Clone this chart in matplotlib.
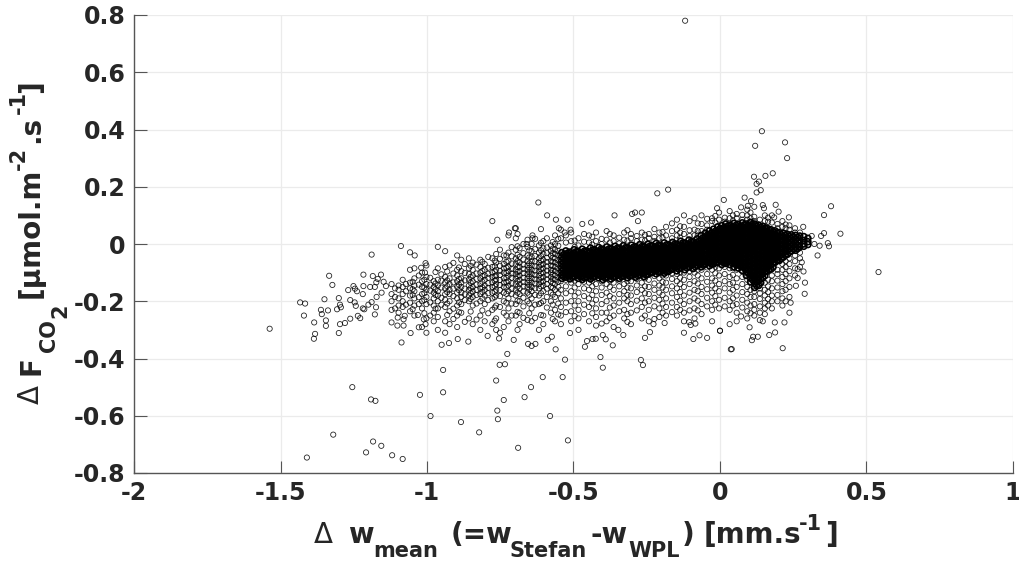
import matplotlib
matplotlib.use('Agg')
import matplotlib.pyplot as plt

# outliers and sparse points
sparse_x = [-0.119, -1.537, -1.433, -1.416, -1.42, -1.385, -1.382, -1.386, -1.362, -1.359, -1.334, -1.323, -1.35, -1.338,
            -1.345, -1.345, -1.301, -1.297, -1.307, -1.294, -1.297, -1.28, -1.301, -1.262, -1.269, -1.251, -1.246, -1.239,
            -1.219, -1.217, -1.217, -1.262, -1.247, -1.243, -1.219, -1.236, -1.228, -1.214, -1.2, -1.189, -1.174, -1.178,
            -1.194, -1.178, -1.185, -1.189, -1.157, -1.168, -1.173, -1.172, -1.148, -1.14, -1.155, -1.121, -1.1, -1.101,
            -1.08, -1.076, -1.08, -1.087, -1.056, -1.028, -1.005, -1.011, -1.031, -1.089, -1.058, -1.042, -1.005, -1.007,
            -1.02, -1.255, -1.191, -1.176, -1.024, -0.988, -1.32, -1.41, -1.184, -1.156, -1.208, -1.119, -1.083,
            -0.945, -0.945, -0.884, -0.822, -0.689, -0.519, -0.58, -0.758, -0.76, -0.738, -0.667, -0.645, -0.605, -0.537,
            -0.764, -0.752, -0.734, -0.726, -0.529, -0.561, -0.408, -0.4, -0.27, -0.263, -0.461, -0.366, -0.95, -0.925,
            -0.895, -0.859, -0.793, -0.754, -0.704, -0.655, -0.643, -0.63, -0.588, -0.574, -0.512, -0.454, -0.435, -0.424,
            -0.4, -0.39, -0.347, -0.33, -0.256, -0.239, -0.123, -0.091, -0.07, -0.044, 0.0, 0.037,
            0.143, 0.222, 0.12, 0.229, 0.18, 0.155, 0.116, 0.133, 0.125, 0.139, 0.125, -0.177, -0.214, 0.013, 0.084, 0.106,
            0.146, 0.15, 0.19, -0.01, 0.072, 0.095, 0.2, 0.379, 0.355, 0.411, 0.355, 0.345, 0.284, 0.235, 0.185, 0.541,
            0.372, 0.368, 0.333, 0.34, 0.322, 0.313, 0.29, 0.289, 0.285, 0.279, 0.265, 0.265, 0.259, 0.241, 0.237, 0.22,
            0.214, 0.188, 0.168, 0.187, 0.146, 0.136, 0.101, 0.129, 0.113, 0.109, 0.04, 0.0, 0.072, -0.084, -0.105, -0.1,
            -0.189, -0.227, -0.62, -0.59, -0.56, -0.64, -0.64, -0.52, -0.47, -0.44, -0.36, -0.3, -0.29, -0.28, -0.76, -0.72,
            -0.7, -0.55, -0.53, -0.51, -0.66]
sparse_y = [0.78, -0.296, -0.204, -0.208, -0.25, -0.274, -0.314, -0.331, -0.23, -0.245, -0.111, -0.143, -0.193, -0.232,
            -0.267, -0.286, -0.189, -0.212, -0.228, -0.221, -0.28, -0.276, -0.311, -0.261, -0.161, -0.147, -0.156, -0.165,
            -0.175, -0.107, -0.147, -0.196, -0.204, -0.216, -0.225, -0.251, -0.259, -0.228, -0.212, -0.203, -0.221, -0.246,
            -0.15, -0.15, -0.112, -0.037, -0.107, -0.122, -0.134, -0.185, -0.132, -0.147, -0.17, -0.274, -0.257, -0.285,
            -0.285, -0.251, -0.263, -0.344, -0.311, -0.291, -0.28, -0.263, -0.248, -0.007, -0.029, -0.04, -0.067, -0.1,
            -0.083, -0.5, -0.543, -0.548, -0.527, -0.601, -0.666, -0.746, -0.69, -0.705, -0.728, -0.738, -0.751,
            -0.44, -0.518, -0.622, -0.658, -0.712, -0.686, -0.601, -0.612, -0.582, -0.545, -0.535, -0.5, -0.465, -0.465,
            -0.477, -0.422, -0.42, -0.384, -0.404, -0.368, -0.395, -0.432, -0.405, -0.423, -0.359, -0.354, -0.352, -0.346,
            -0.332, -0.341, -0.321, -0.33, -0.335, -0.349, -0.356, -0.349, -0.335, -0.324, -0.311, -0.339, -0.332, -0.331,
            -0.318, -0.333, -0.3, -0.318, -0.328, -0.308, -0.31, -0.332, -0.319, -0.328, -0.303, -0.368,
            0.394, 0.355, 0.343, 0.3, 0.247, 0.238, 0.235, 0.218, 0.21, 0.188, 0.18, 0.19, 0.177, 0.154, 0.162, 0.15,
            0.136, 0.125, 0.137, 0.125, 0.128, 0.133, 0.113, 0.132, 0.101, 0.036, 0.038, 0.028, 0.06, 0.093, 0.093, -0.098,
            -0.008, 0.003, -0.04, -0.006, 0.0, 0.028, -0.135, -0.174, -0.096, -0.064, -0.119, -0.088, -0.146, -0.205, -0.24, -0.274,
            -0.364, -0.309, -0.318, -0.274, -0.27, -0.266, -0.291, -0.324, -0.324, -0.336, -0.367, -0.303, -0.253, -0.278, -0.273, -0.283,
            -0.276, -0.28, 0.145, 0.1, 0.085, 0.03, 0.02, 0.085, 0.07, 0.075, 0.1, 0.105, 0.11, 0.08, 0.015, 0.04,
            0.055, 0.055, 0.04, 0.05, 0.0]

# left part of the cloud, read column by column
left_x = [-1.121, -1.097, -1.083, -1.058, -1.043, -1.017, -1.002, -0.977, -0.963, -0.938, -0.923, -0.897, -0.883, -0.857, -0.844,
          -0.818, -0.803, -0.777, -0.764, -0.738, -0.722, -0.697, -0.684, -0.657, -0.643, -0.618, -0.603, -0.577, -0.563]
left_y = [
    [-0.14, -0.175, -0.2, -0.23],
    [-0.145, -0.16, -0.19, -0.215, -0.24],
    [-0.125, -0.15, -0.175, -0.2, -0.22],
    [-0.09, -0.135, -0.155, -0.18, -0.205, -0.235],
    [-0.085, -0.12, -0.145, -0.165, -0.19, -0.215, -0.25],
    [-0.1, -0.13, -0.15, -0.175, -0.2, -0.225, -0.29],
    [-0.075, -0.115, -0.14, -0.16, -0.185, -0.21, -0.26, -0.31],
    [-0.13, -0.15, -0.17, -0.19, -0.215, -0.24, -0.27],
    [-0.01, -0.085, -0.125, -0.145, -0.165, -0.18, -0.2, -0.225, -0.255, -0.3],
    [-0.025, -0.08, -0.115, -0.135, -0.155, -0.175, -0.195, -0.22, -0.27, -0.31],
    [-0.075, -0.12, -0.14, -0.16, -0.175, -0.2, -0.235, -0.28],
    [-0.04, -0.09, -0.11, -0.13, -0.15, -0.17, -0.19, -0.215, -0.25, -0.29],
    [-0.055, -0.095, -0.12, -0.135, -0.15, -0.17, -0.185, -0.21, -0.24],
    [-0.05, -0.085, -0.105, -0.125, -0.145, -0.16, -0.18, -0.2, -0.26],
    [-0.065, -0.09, -0.11, -0.13, -0.15, -0.165, -0.185, -0.215, -0.28],
    [-0.055, -0.08, -0.1, -0.12, -0.14, -0.155, -0.175, -0.2, -0.25, -0.3],
    [-0.07, -0.09, -0.11, -0.125, -0.145, -0.16, -0.18, -0.21, -0.27],
    [0.08, -0.05, -0.08, -0.1, -0.115, -0.135, -0.15, -0.17, -0.19, -0.23, -0.28],
    [-0.035, -0.065, -0.09, -0.11, -0.125, -0.14, -0.16, -0.18, -0.215, -0.26, -0.3],
    [-0.04, -0.07, -0.085, -0.1, -0.12, -0.135, -0.15, -0.17, -0.2, -0.24, -0.29],
    [0.03, -0.03, -0.06, -0.08, -0.095, -0.11, -0.13, -0.145, -0.165, -0.19, -0.225, -0.27],
    [0.055, 0.02, -0.02, -0.05, -0.07, -0.09, -0.105, -0.12, -0.14, -0.16, -0.18, -0.21, -0.25],
    [-0.015, -0.045, -0.065, -0.08, -0.095, -0.11, -0.125, -0.14, -0.155, -0.175, -0.2, -0.24, -0.28],
    [0.015, -0.01, -0.04, -0.06, -0.075, -0.09, -0.105, -0.12, -0.135, -0.15, -0.17, -0.2, -0.265],
    [0.0, -0.025, -0.045, -0.06, -0.075, -0.09, -0.105, -0.12, -0.135, -0.15, -0.165, -0.19, -0.225, -0.27],
    [-0.005, -0.03, -0.05, -0.065, -0.08, -0.095, -0.11, -0.125, -0.14, -0.155, -0.18, -0.21, -0.3],
    [0.01, -0.015, -0.035, -0.055, -0.07, -0.085, -0.1, -0.115, -0.13, -0.145, -0.165, -0.2, -0.25, -0.28],
    [-0.005, -0.025, -0.04, -0.06, -0.075, -0.09, -0.1, -0.115, -0.13, -0.15, -0.17, -0.2, -0.24],
    [0.03, 0.0, -0.02, -0.035, -0.05, -0.065, -0.08, -0.095, -0.11, -0.125, -0.14, -0.16, -0.185, -0.23, -0.27],
]

# second reading of the same part, between the columns above
left2_x = [-1.109, -1.072, -1.049, -1.028, -1.009, -0.989, -0.971, -0.951, -0.931, -0.91, -0.891, -0.871, -0.851, -0.831,
           -0.811, -0.791, -0.769, -0.751, -0.729, -0.711, -0.691, -0.671, -0.651, -0.631, -0.611, -0.591, -0.571, -0.552]
left2_y = [
    [-0.155, -0.185, -0.225],
    [-0.14, -0.165, -0.212],
    [-0.132, -0.158, -0.178, -0.228],
    [-0.11, -0.142, -0.186, -0.21],
    [-0.125, -0.152, -0.172, -0.196, -0.242],
    [-0.118, -0.142, -0.163, -0.204, -0.25],
    [-0.098, -0.138, -0.158, -0.178, -0.226],
    [-0.106, -0.128, -0.152, -0.188, -0.212],
    [-0.096, -0.127, -0.147, -0.168, -0.208, -0.248],
    [-0.066, -0.103, -0.134, -0.156, -0.182, -0.226, -0.262],
    [-0.082, -0.122, -0.142, -0.161, -0.204, -0.238],
    [-0.07, -0.101, -0.127, -0.156, -0.176, -0.196, -0.272],
    [-0.076, -0.115, -0.135, -0.154, -0.172, -0.192, -0.236],
    [-0.072, -0.103, -0.122, -0.142, -0.16, -0.178, -0.208, -0.264],
    [-0.062, -0.094, -0.112, -0.132, -0.152, -0.168, -0.19, -0.232],
    [-0.045, -0.083, -0.104, -0.118, -0.137, -0.153, -0.172, -0.196, -0.242],
    [-0.058, -0.078, -0.096, -0.113, -0.128, -0.147, -0.167, -0.186, -0.222, -0.268],
    [-0.02, -0.052, -0.076, -0.094, -0.108, -0.126, -0.143, -0.161, -0.182, -0.22, -0.31],
    [-0.04, -0.062, -0.083, -0.101, -0.118, -0.133, -0.152, -0.174, -0.205, -0.25],
    [-0.011, -0.043, -0.068, -0.087, -0.103, -0.118, -0.137, -0.156, -0.174, -0.208, -0.25],
    [0.035, -0.008, -0.038, -0.06, -0.08, -0.097, -0.113, -0.13, -0.149, -0.17, -0.198, -0.237, -0.3],
    [0.0, -0.032, -0.054, -0.072, -0.087, -0.102, -0.118, -0.133, -0.148, -0.166, -0.188, -0.218, -0.258],
    [-0.022, -0.047, -0.068, -0.083, -0.098, -0.113, -0.128, -0.143, -0.158, -0.178, -0.208, -0.242],
    [0.018, -0.018, -0.042, -0.061, -0.078, -0.093, -0.108, -0.123, -0.138, -0.155, -0.178, -0.212, -0.258],
    [0.052, 0.004, -0.022, -0.042, -0.058, -0.073, -0.088, -0.103, -0.118, -0.133, -0.148, -0.172, -0.206, -0.248],
    [0.02, -0.012, -0.032, -0.048, -0.063, -0.078, -0.093, -0.108, -0.123, -0.14, -0.156, -0.185, -0.222],
    [0.007, -0.016, -0.033, -0.048, -0.062, -0.077, -0.092, -0.107, -0.122, -0.137, -0.153, -0.177, -0.212, -0.262],
    [0.018, -0.006, -0.024, -0.04, -0.056, -0.071, -0.085, -0.101, -0.116, -0.132, -0.15, -0.172, -0.208, -0.246],
]

# black core of the cloud
core_x = [-0.54, -0.526, -0.512, -0.498, -0.484, -0.47, -0.456, -0.442, -0.428, -0.414, -0.4, -0.386, -0.372, -0.358,
          -0.344, -0.33, -0.316, -0.302, -0.288, -0.274, -0.26, -0.246, -0.232, -0.218, -0.204, -0.19, -0.176, -0.162,
          -0.148, -0.134, -0.12, -0.106, -0.092, -0.078, -0.064, -0.05, -0.036, -0.022, -0.008, 0.006, 0.02, 0.034,
          0.048, 0.062, 0.076, 0.09, 0.104, 0.118, 0.132, 0.146, 0.16, 0.174, 0.188, 0.202, 0.216, 0.23, 0.244, 0.258,
          0.272, 0.286, 0.3]
core_y = [
    [-0.03, -0.045, -0.058, -0.07, -0.083, -0.095, -0.108, -0.12],
    [-0.024, -0.038, -0.052, -0.066, -0.078, -0.09, -0.104, -0.116],
    [-0.028, -0.042, -0.056, -0.07, -0.082, -0.096, -0.11, -0.122],
    [-0.02, -0.034, -0.048, -0.062, -0.075, -0.088, -0.1, -0.114],
    [-0.026, -0.04, -0.054, -0.068, -0.08, -0.094, -0.108, -0.12],
    [-0.018, -0.032, -0.046, -0.06, -0.072, -0.086, -0.098, -0.112, -0.124],
    [-0.024, -0.038, -0.052, -0.064, -0.078, -0.09, -0.104, -0.116],
    [-0.014, -0.028, -0.042, -0.056, -0.07, -0.082, -0.096, -0.11, -0.122],
    [-0.02, -0.034, -0.048, -0.06, -0.074, -0.088, -0.1, -0.114],
    [-0.012, -0.026, -0.04, -0.054, -0.066, -0.08, -0.092, -0.106, -0.118],
    [-0.018, -0.032, -0.046, -0.058, -0.072, -0.086, -0.098, -0.112, -0.124],
    [-0.01, -0.024, -0.038, -0.052, -0.064, -0.078, -0.09, -0.104, -0.116],
    [-0.016, -0.03, -0.044, -0.056, -0.07, -0.084, -0.096, -0.11, -0.122],
    [-0.008, -0.022, -0.036, -0.05, -0.062, -0.076, -0.088, -0.102, -0.114],
    [-0.014, -0.028, -0.042, -0.054, -0.068, -0.082, -0.094, -0.108, -0.12],
    [-0.006, -0.02, -0.034, -0.048, -0.06, -0.074, -0.086, -0.1, -0.112],
    [-0.012, -0.026, -0.04, -0.052, -0.066, -0.08, -0.092, -0.106, -0.118],
    [-0.004, -0.018, -0.032, -0.046, -0.058, -0.072, -0.084, -0.098, -0.11],
    [-0.01, -0.024, -0.038, -0.05, -0.064, -0.078, -0.09, -0.104, -0.116],
    [-0.002, -0.016, -0.03, -0.044, -0.056, -0.07, -0.082, -0.096, -0.108],
    [-0.008, -0.022, -0.036, -0.048, -0.062, -0.076, -0.088, -0.102, -0.114],
    [0.0, -0.014, -0.028, -0.042, -0.054, -0.068, -0.08, -0.094, -0.106],
    [-0.006, -0.02, -0.034, -0.046, -0.06, -0.074, -0.086, -0.1],
    [0.002, -0.012, -0.026, -0.04, -0.052, -0.066, -0.078, -0.092, -0.104],
    [-0.004, -0.018, -0.032, -0.044, -0.058, -0.072, -0.084, -0.098],
    [0.004, -0.01, -0.024, -0.038, -0.05, -0.064, -0.076, -0.09, -0.102],
    [-0.002, -0.016, -0.03, -0.042, -0.056, -0.07, -0.082, -0.096],
    [0.006, -0.008, -0.022, -0.036, -0.048, -0.062, -0.074, -0.088],
    [0.0, -0.014, -0.028, -0.04, -0.054, -0.068, -0.08, -0.094],
    [0.01, -0.004, -0.018, -0.032, -0.044, -0.058, -0.07, -0.084],
    [0.004, -0.01, -0.024, -0.036, -0.05, -0.064, -0.076, -0.09],
    [0.014, 0.0, -0.014, -0.028, -0.04, -0.054, -0.066, -0.08],
    [0.008, -0.006, -0.02, -0.032, -0.046, -0.06, -0.072, -0.086],
    [0.018, 0.004, -0.01, -0.024, -0.036, -0.05, -0.062, -0.076],
    [0.03, 0.014, 0.0, -0.014, -0.028, -0.04, -0.054, -0.068, -0.08],
    [0.038, 0.024, 0.01, -0.004, -0.018, -0.03, -0.044, -0.058, -0.07],
    [0.046, 0.032, 0.018, 0.004, -0.01, -0.024, -0.036, -0.05, -0.064, -0.076],
    [0.052, 0.038, 0.024, 0.01, -0.004, -0.018, -0.03, -0.044, -0.058, -0.07],
    [0.06, 0.046, 0.032, 0.018, 0.004, -0.01, -0.024, -0.036, -0.05, -0.064],
    [0.064, 0.05, 0.036, 0.022, 0.008, -0.006, -0.02, -0.032, -0.046, -0.06, -0.072],
    [0.07, 0.056, 0.042, 0.028, 0.014, 0.0, -0.014, -0.026, -0.04, -0.054, -0.068],
    [0.066, 0.052, 0.038, 0.024, 0.01, -0.004, -0.018, -0.03, -0.044, -0.058, -0.072],
    [0.072, 0.058, 0.044, 0.03, 0.016, 0.002, -0.012, -0.024, -0.038, -0.052, -0.066, -0.08],
    [0.068, 0.054, 0.04, 0.026, 0.012, -0.002, -0.016, -0.028, -0.042, -0.056, -0.07, -0.084],
    [0.074, 0.06, 0.046, 0.032, 0.018, 0.004, -0.01, -0.022, -0.036, -0.05, -0.064, -0.078, -0.092],
    [0.07, 0.056, 0.042, 0.028, 0.014, 0.0, -0.014, -0.026, -0.04, -0.054, -0.068, -0.082, -0.096, -0.11],
    [0.076, 0.062, 0.048, 0.034, 0.02, 0.006, -0.008, -0.02, -0.034, -0.048, -0.062, -0.076, -0.09, -0.104, -0.118, -0.132],
    [0.07, 0.056, 0.042, 0.028, 0.014, 0.0, -0.014, -0.026, -0.04, -0.054, -0.068, -0.082, -0.096, -0.11, -0.124, -0.138, -0.152],
    [0.066, 0.052, 0.038, 0.024, 0.01, -0.004, -0.018, -0.03, -0.044, -0.058, -0.072, -0.086, -0.1, -0.114, -0.128, -0.145],
    [0.062, 0.048, 0.034, 0.02, 0.006, -0.008, -0.022, -0.034, -0.048, -0.062, -0.076, -0.09, -0.104, -0.118],
    [0.056, 0.042, 0.028, 0.014, 0.0, -0.014, -0.028, -0.04, -0.054, -0.068, -0.082, -0.096],
    [0.05, 0.036, 0.022, 0.008, -0.006, -0.02, -0.032, -0.046, -0.06, -0.074, -0.088],
    [0.046, 0.032, 0.018, 0.004, -0.01, -0.024, -0.036, -0.05, -0.064],
    [0.04, 0.026, 0.012, -0.002, -0.016, -0.03, -0.044, -0.058],
    [0.038, 0.024, 0.01, -0.004, -0.018, -0.032, -0.046],
    [0.034, 0.02, 0.006, -0.008, -0.022, -0.036],
    [0.032, 0.018, 0.004, -0.01, -0.024],
    [0.03, 0.016, 0.002, -0.012, -0.022],
    [0.028, 0.014, 0.002, -0.01],
    [0.026, 0.012, 0.0, -0.008],
    [0.02, 0.008, -0.002],
]

# second reading of the core, fills the holes left by the columns above
core2_x = [-0.533, -0.519, -0.505, -0.491, -0.477, -0.463, -0.449, -0.435, -0.421, -0.407, -0.393, -0.379, -0.365, -0.351,
           -0.337, -0.323, -0.309, -0.295, -0.281, -0.267, -0.253, -0.239, -0.225, -0.211, -0.197, -0.183, -0.169, -0.155,
           -0.141, -0.127, -0.113, -0.099, -0.085, -0.071, -0.057, -0.043, -0.029, -0.015, -0.001, 0.013, 0.027, 0.041,
           0.055, 0.069, 0.083, 0.097, 0.111, 0.125, 0.139, 0.153, 0.167, 0.181, 0.195, 0.209, 0.223, 0.237, 0.251, 0.265]
core2_y = [
    [-0.037, -0.051, -0.064, -0.076, -0.089, -0.102, -0.114],
    [-0.031, -0.045, -0.059, -0.072, -0.084, -0.097, -0.11],
    [-0.035, -0.049, -0.063, -0.076, -0.089, -0.103, -0.116],
    [-0.027, -0.041, -0.055, -0.068, -0.081, -0.094, -0.107],
    [-0.033, -0.047, -0.061, -0.074, -0.087, -0.101, -0.114],
    [-0.025, -0.039, -0.053, -0.066, -0.079, -0.092, -0.105, -0.118],
    [-0.031, -0.045, -0.058, -0.071, -0.084, -0.097, -0.11],
    [-0.021, -0.035, -0.049, -0.063, -0.076, -0.089, -0.103, -0.116],
    [-0.027, -0.041, -0.054, -0.067, -0.081, -0.094, -0.107],
    [-0.019, -0.033, -0.047, -0.06, -0.073, -0.086, -0.099, -0.112],
    [-0.025, -0.039, -0.052, -0.065, -0.079, -0.092, -0.105, -0.118],
    [-0.017, -0.031, -0.045, -0.058, -0.071, -0.084, -0.097, -0.11],
    [-0.023, -0.037, -0.05, -0.063, -0.077, -0.09, -0.103, -0.116],
    [-0.015, -0.029, -0.043, -0.056, -0.069, -0.082, -0.095, -0.108],
    [-0.021, -0.035, -0.048, -0.061, -0.075, -0.088, -0.101, -0.114],
    [-0.013, -0.027, -0.041, -0.054, -0.067, -0.08, -0.093, -0.106],
    [-0.019, -0.033, -0.046, -0.059, -0.073, -0.086, -0.099, -0.112],
    [-0.011, -0.025, -0.039, -0.052, -0.065, -0.078, -0.091, -0.104],
    [-0.017, -0.031, -0.044, -0.057, -0.071, -0.084, -0.097, -0.11],
    [-0.009, -0.023, -0.037, -0.05, -0.063, -0.076, -0.089, -0.102],
    [-0.015, -0.029, -0.042, -0.055, -0.069, -0.082, -0.095, -0.108],
    [-0.007, -0.021, -0.035, -0.048, -0.061, -0.074, -0.087, -0.1],
    [-0.013, -0.027, -0.04, -0.053, -0.067, -0.08, -0.093],
    [-0.005, -0.019, -0.033, -0.046, -0.059, -0.072, -0.085, -0.098],
    [-0.011, -0.025, -0.038, -0.051, -0.065, -0.078, -0.091],
    [-0.003, -0.017, -0.031, -0.044, -0.057, -0.07, -0.083, -0.096],
    [-0.009, -0.023, -0.036, -0.049, -0.063, -0.076, -0.089],
    [-0.001, -0.015, -0.029, -0.042, -0.055, -0.068, -0.081],
    [-0.007, -0.021, -0.034, -0.047, -0.061, -0.074, -0.087],
    [0.003, -0.011, -0.025, -0.038, -0.051, -0.064, -0.077],
    [-0.003, -0.017, -0.03, -0.043, -0.057, -0.07, -0.083],
    [0.007, -0.007, -0.021, -0.034, -0.047, -0.06, -0.073],
    [0.001, -0.013, -0.026, -0.039, -0.053, -0.066, -0.079],
    [0.011, -0.003, -0.017, -0.03, -0.043, -0.056, -0.069],
    [0.022, 0.007, -0.007, -0.021, -0.034, -0.047, -0.061, -0.074],
    [0.031, 0.017, 0.003, -0.011, -0.024, -0.037, -0.051, -0.064],
    [0.039, 0.025, 0.011, -0.003, -0.017, -0.03, -0.043, -0.057, -0.07],
    [0.045, 0.031, 0.017, 0.003, -0.011, -0.024, -0.037, -0.051, -0.064],
    [0.053, 0.039, 0.025, 0.011, -0.003, -0.017, -0.03, -0.043, -0.057],
    [0.057, 0.043, 0.029, 0.015, 0.001, -0.013, -0.026, -0.039, -0.053, -0.066],
    [0.063, 0.049, 0.035, 0.021, 0.007, -0.007, -0.02, -0.033, -0.047, -0.061],
    [0.059, 0.045, 0.031, 0.017, 0.003, -0.011, -0.024, -0.037, -0.051, -0.065],
    [0.065, 0.051, 0.037, 0.023, 0.009, -0.005, -0.018, -0.031, -0.045, -0.059, -0.073],
    [0.061, 0.047, 0.033, 0.019, 0.005, -0.009, -0.022, -0.035, -0.049, -0.063, -0.077],
    [0.067, 0.053, 0.039, 0.025, 0.011, -0.003, -0.016, -0.029, -0.043, -0.057, -0.071, -0.085],
    [0.063, 0.049, 0.035, 0.021, 0.007, -0.007, -0.02, -0.033, -0.047, -0.061, -0.075, -0.089, -0.103],
    [0.069, 0.055, 0.041, 0.027, 0.013, -0.001, -0.014, -0.027, -0.041, -0.055, -0.069, -0.083, -0.097, -0.111, -0.125],
    [0.063, 0.049, 0.035, 0.021, 0.007, -0.007, -0.02, -0.033, -0.047, -0.061, -0.075, -0.089, -0.103, -0.117, -0.131, -0.145],
    [0.059, 0.045, 0.031, 0.017, 0.003, -0.011, -0.024, -0.037, -0.051, -0.065, -0.079, -0.093, -0.107, -0.121, -0.135],
    [0.055, 0.041, 0.027, 0.013, -0.001, -0.015, -0.028, -0.041, -0.055, -0.069, -0.083, -0.097, -0.111],
    [0.049, 0.035, 0.021, 0.007, -0.007, -0.021, -0.034, -0.047, -0.061, -0.075, -0.089],
    [0.043, 0.029, 0.015, 0.001, -0.013, -0.026, -0.039, -0.053, -0.067, -0.081],
    [0.039, 0.025, 0.011, -0.003, -0.017, -0.03, -0.043, -0.057],
    [0.033, 0.019, 0.005, -0.009, -0.023, -0.037, -0.051],
    [0.031, 0.017, 0.003, -0.011, -0.025, -0.039],
    [0.027, 0.013, -0.001, -0.015, -0.029],
    [0.025, 0.011, -0.003, -0.017],
    [0.023, 0.009, -0.005, -0.016],
]

# fringe above and below the core
fringe_x = [-0.543, -0.508, -0.483, -0.447, -0.423, -0.387, -0.363, -0.327, -0.304, -0.267, -0.243, -0.207, -0.184, -0.147, -0.123,
            -0.087, -0.063, -0.027, -0.003, 0.033, 0.057, 0.093, 0.117, 0.153, 0.177, 0.213, 0.237, 0.273]
fringe_y = [
    [0.05, 0.02, -0.13, -0.16, -0.19, -0.22, -0.25, -0.28],
    [0.04, 0.01, -0.135, -0.165, -0.2, -0.235, -0.27],
    [0.02, -0.005, -0.14, -0.17, -0.2, -0.23, -0.26, -0.3],
    [0.03, 0.005, -0.135, -0.16, -0.19, -0.22, -0.27],
    [0.04, 0.01, -0.14, -0.165, -0.195, -0.225, -0.255, -0.285],
    [0.045, 0.015, -0.14, -0.17, -0.2, -0.24, -0.27],
    [0.03, 0.01, -0.135, -0.16, -0.19, -0.215, -0.25, -0.29],
    [0.04, 0.015, -0.14, -0.165, -0.19, -0.23, -0.26],
    [0.035, 0.02, -0.13, -0.155, -0.18, -0.21, -0.24, -0.28],
    [0.11, 0.04, 0.015, -0.135, -0.16, -0.19, -0.22, -0.26],
    [0.035, 0.02, -0.125, -0.15, -0.175, -0.2, -0.23, -0.27],
    [0.04, 0.02, -0.12, -0.145, -0.17, -0.195, -0.225, -0.255],
    [0.06, 0.03, -0.11, -0.135, -0.16, -0.19, -0.22, -0.25],
    [0.085, 0.05, 0.03, -0.105, -0.13, -0.155, -0.185, -0.22, -0.25],
    [0.1, 0.06, 0.035, -0.1, -0.125, -0.15, -0.18, -0.21, -0.24, -0.27],
    [0.09, 0.05, 0.03, -0.1, -0.13, -0.16, -0.19, -0.225, -0.26],
    [0.1, 0.07, 0.045, -0.09, -0.12, -0.15, -0.175, -0.21, -0.245],
    [0.09, 0.08, -0.09, -0.12, -0.145, -0.17, -0.2, -0.23, -0.27],
    [0.11, 0.085, -0.085, -0.11, -0.14, -0.165, -0.195, -0.225],
    [0.115, 0.09, -0.085, -0.115, -0.14, -0.17, -0.2, -0.23, -0.28],
    [0.105, 0.09, -0.09, -0.12, -0.15, -0.18, -0.21, -0.24, -0.27],
    [0.12, 0.1, 0.085, -0.125, -0.15, -0.175, -0.205, -0.235, -0.26],
    [0.13, 0.095, 0.08, -0.165, -0.185, -0.21, -0.23, -0.25],
    [0.1, 0.08, -0.135, -0.16, -0.18, -0.205, -0.225, -0.245],
    [0.1, 0.075, -0.11, -0.13, -0.155, -0.18, -0.2, -0.225],
    [0.08, 0.06, -0.07, -0.09, -0.115, -0.14, -0.165, -0.19, -0.215],
    [0.065, 0.05, -0.05, -0.07, -0.095, -0.12, -0.15, -0.185],
    [0.04, -0.03, -0.05, -0.08],
]

# second reading of the fringe
fringe2_x = [-0.526, -0.496, -0.464, -0.436, -0.404, -0.376, -0.344, -0.316, -0.284, -0.256, -0.224, -0.196, -0.164, -0.136,
             -0.104, -0.076, -0.044, -0.016, 0.016, 0.044, 0.076, 0.104, 0.136, 0.164, 0.196, 0.224, 0.256]
fringe2_y = [
    [0.03, 0.005, -0.125, -0.148, -0.172, -0.205, -0.238],
    [0.012, -0.01, -0.128, -0.152, -0.182, -0.215, -0.252],
    [0.035, 0.008, -0.132, -0.155, -0.182, -0.212, -0.245],
    [0.025, -0.002, -0.128, -0.148, -0.178, -0.208, -0.242],
    [0.018, 0.0, -0.13, -0.152, -0.178, -0.21, -0.24, -0.278],
    [0.035, 0.005, -0.128, -0.15, -0.182, -0.222, -0.258],
    [0.022, 0.002, -0.128, -0.148, -0.175, -0.205, -0.235],
    [0.048, 0.012, -0.13, -0.152, -0.178, -0.2, -0.245, -0.272],
    [0.028, 0.01, -0.122, -0.145, -0.168, -0.198, -0.232],
    [0.032, 0.012, -0.12, -0.148, -0.172, -0.205, -0.25],
    [0.052, 0.025, 0.01, -0.112, -0.138, -0.16, -0.188, -0.218, -0.262],
    [0.042, 0.022, -0.11, -0.132, -0.152, -0.178, -0.208, -0.24],
    [0.072, 0.045, 0.02, -0.102, -0.122, -0.148, -0.172, -0.205, -0.238],
    [0.062, 0.04, 0.022, -0.098, -0.118, -0.14, -0.168, -0.198, -0.23],
    [0.08, 0.048, 0.028, -0.095, -0.115, -0.14, -0.17, -0.2, -0.232],
    [0.072, 0.045, 0.03, -0.09, -0.11, -0.138, -0.165, -0.198, -0.232],
    [0.088, 0.065, 0.05, -0.082, -0.105, -0.132, -0.158, -0.188, -0.218],
    [0.098, 0.075, -0.08, -0.102, -0.128, -0.155, -0.182, -0.212],
    [0.092, 0.078, -0.08, -0.105, -0.13, -0.155, -0.188, -0.218],
    [0.1, 0.082, -0.085, -0.108, -0.135, -0.16, -0.19, -0.215],
    [0.102, 0.085, -0.095, -0.115, -0.14, -0.168, -0.195, -0.222],
    [0.11, 0.09, -0.11, -0.135, -0.16, -0.185, -0.215, -0.242],
    [0.085, -0.155, -0.172, -0.192, -0.218, -0.24],
    [0.092, 0.078, -0.125, -0.148, -0.168, -0.192, -0.215],
    [0.07, 0.055, -0.09, -0.105, -0.128, -0.152, -0.178, -0.2],
    [0.068, 0.055, -0.06, -0.08, -0.105, -0.13, -0.16, -0.2],
    [0.055, 0.04, -0.04, -0.06, -0.085, -0.11],
]

x_ticks = [-2, -1.5, -1, -0.5, 0, 0.5, 1]
x_labels = ['-2', '-1.5', '-1', '-0.5', '0', '0.5', '1']
y_ticks = [-0.8, -0.6, -0.4, -0.2, 0, 0.2, 0.4, 0.6, 0.8]
y_labels = ['-0.8', '-0.6', '-0.4', '-0.2', '0', '0.2', '0.4', '0.6', '0.8']

W, H = 1019, 561
text_color = '#262626'


def piece(px, py, s, size, rot=0, weight='bold'):
    # one bit of an axis label, placed by the start of its baseline in pixels
    fig.text(px / W, 1 - py / H, s, fontsize=size, fontweight=weight, color=text_color,
             rotation=rot, rotation_mode='anchor', ha='left', va='baseline')


def flatten(pairs):
    out_x, out_y = [], []
    for xs, ys in pairs:
        for x, col in zip(xs, ys):
            out_x += [x] * len(col)
            out_y += col
    return out_x, out_y


fig = plt.figure(figsize=[W / 100, H / 100], dpi=100)
ax = fig.add_axes([134 / W, 1 - 473 / H, 879 / W, 458 / H])

cloud_x, cloud_y = flatten([(left_x, left_y), (left2_x, left2_y), (fringe_x, fringe_y), (fringe2_x, fringe2_y)])
dark_x, dark_y = flatten([(core_x, core_y), (core2_x, core2_y)])

ax.scatter(sparse_x + cloud_x, sparse_y + cloud_y, s=14, facecolors='none', edgecolors='black', linewidths=0.6, alpha=0.85, zorder=3)
# the core is thousands of rings in the reference, thicker edges stand in for the overlap
ax.scatter(dark_x, dark_y, s=18, facecolors='none', edgecolors='black', linewidths=1.2, zorder=3)

ax.set_xlim(-2, 1)
ax.set_ylim(-0.8, 0.8)
ax.set_xticks(x_ticks)
ax.set_xticklabels(x_labels, fontsize=17, fontweight='bold', color=text_color)
ax.set_yticks(y_ticks)
ax.set_yticklabels(y_labels, fontsize=17, fontweight='bold', color=text_color)
ax.tick_params(direction='in', length=9, width=0.8, color='#555555', pad=6)
ax.grid(True, color='#ebebeb', linewidth=0.9)
ax.set_axisbelow(True)
for side in ['top', 'right']:
    ax.spines[side].set_visible(False)
for side in ['left', 'bottom']:
    ax.spines[side].set_color('#555555')
    ax.spines[side].set_linewidth(1)

# x label, built from its pieces so the sub and superscripts sit as in the picture
piece(314, 543, '\u0394', 20, weight='normal')
piece(348, 543, 'w', 20)
piece(373, 557, 'mean', 15)
piece(451, 543, '(=w', 20)
piece(510, 557, 'Stefan', 15)
piece(591, 543, '-w', 20)
piece(628, 557, 'WPL', 15)
piece(682, 543, ')', 20)
piece(704, 543, '[mm.s', 20)
piece(799, 530, '-1', 15)
piece(825, 543, ']', 20)

# y label, same thing turned by 90 degrees
piece(39, 404, '\u0394', 20, rot=90, weight='normal')
piece(39, 375, 'F', 20, rot=90)
piece(55, 352, 'CO', 15, rot=90)
piece(66, 318, '2', 15, rot=90)
piece(39, 298, '[\u00b5mol.m', 20, rot=90)
piece(25, 170, '-2', 15, rot=90)
piece(39, 143, '.s', 20, rot=90)
piece(25, 114, '-1', 15, rot=90)
piece(39, 93, ']', 20, rot=90)

fig.savefig('out.png', dpi=100)
